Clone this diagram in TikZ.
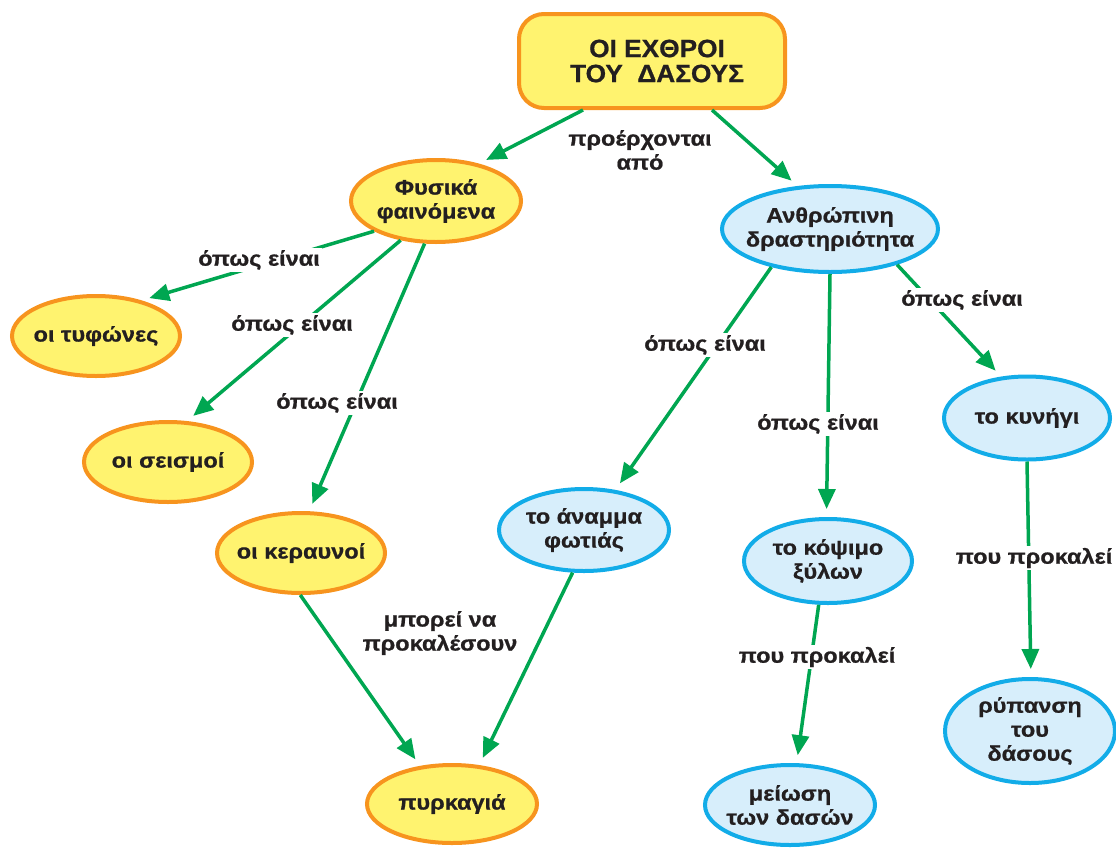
\documentclass[tikz,border=0pt]{standalone}
\usepackage{fontspec}
\usetikzlibrary{shapes.geometric,arrows.meta}
\newfontfamily\grfont{Liberation Sans}[FakeStretch=1.12,FakeBold=0.8]
\newfontfamily\grtitle{Liberation Sans}[FakeStretch=1.05,FakeBold=0.8]
\definecolor{yelF}{HTML}{FFF36F}
\definecolor{oraB}{HTML}{F7941E}
\definecolor{bluF}{HTML}{D7EEFB}
\definecolor{bluB}{HTML}{12ACE8}
\definecolor{grn}{HTML}{00A651}
\definecolor{txtC}{HTML}{231F20}
\tikzset{
  yel/.style={ellipse, draw=oraB, fill=yelF, line width=4pt, inner sep=0pt},
  blu/.style={ellipse, draw=bluB, fill=bluF, line width=4pt, inner sep=0pt},
  txt/.style={font=\grfont\bfseries\fontsize{21}{24}\selectfont, text=txtC, align=center, inner sep=0pt},
  lbl/.style={font=\grfont\bfseries\fontsize{21}{24}\selectfont, text=txtC, align=center, fill=white, inner sep=2pt},
  arr/.style={draw=grn, line width=3.5pt, -{Triangle[length=20pt,width=17pt]}, shorten >=8pt},
}
\begin{document}
\begin{tikzpicture}[x=1pt,y=-1pt]
\useasboundingbox (0,0) rectangle (1116,849);
% title
\node[draw=oraB, fill=yelF, line width=4pt, rounded corners=25pt, minimum width=266pt, minimum height=94pt,
  label={[font=\grtitle\bfseries\fontsize{25}{25}\selectfont, text=txtC, align=center, xshift=5pt]center:{ΟΙ ΕΧΘΡΟΙ\\ΤΟΥ\ \ ΔΑΣΟΥΣ}}] (title) at (652,61) {};
% nodes
\node[yel, minimum width=170pt, minimum height=82pt, label={[txt]center:{Φυσικά\\φαινόμενα}}] (fys) at (436,201) {};
\node[blu, minimum width=216pt, minimum height=86pt, label={[txt]center:{Ανθρώπινη\\δραστηριότητα}}] (anth) at (830,229) {};
\node[yel, minimum width=168pt, minimum height=80pt, label={[txt]center:{οι τυφώνες}}] (tyf) at (96,336) {};
\node[yel, minimum width=168pt, minimum height=80pt, label={[txt]center:{οι σεισμοί}}] (seis) at (168,462) {};
\node[yel, minimum width=168pt, minimum height=80pt, label={[txt]center:{οι κεραυνοί}}] (ker) at (301,553) {};
\node[yel, minimum width=170pt, minimum height=78pt, label={[txt]center:{πυρκαγιά}}] (pyr) at (452,804) {};
\node[blu, minimum width=170pt, minimum height=82pt, label={[txt]center:{το άναμμα\\φωτιάς}}] (anam) at (584,530) {};
\node[blu, minimum width=168pt, minimum height=84pt, label={[txt]center:{το κόψιμο\\ξύλων}}] (kop) at (828,561) {};
\node[blu, minimum width=170pt, minimum height=80pt, label={[txt]center:{μείωση\\των δασών}}] (meio) at (790,805) {};
\node[blu, minimum width=166pt, minimum height=83pt, label={[txt]center:{το κυνήγι}}] (kyn) at (1027,418) {};
\node[blu, minimum width=170pt, minimum height=104pt, label={[txt]center:{ρύπανση\\του\\δάσους}}] (ryp) at (1030,731) {};
% connectors
\draw[arr] ([xshift=-69pt]title.south) -- (fys.41);
\draw[arr] ([xshift=60pt]title.south) -- (anth.127);
\draw[arr] (fys.-154) -- (tyf.38);
\draw[arr] (fys.-132) -- (seis.65);
\draw[arr] (fys.-105) -- (ker.79);
\draw[arr] (ker.-91) -- (pyr.130);
\draw[arr] (anam.-105) -- (pyr.55);
\draw[arr] (anth.-147) -- (anam.52);
\draw[arr] (anth.-90) -- (kop.92);
\draw[arr] (anth.-28) -- (kyn.122);
\draw[arr] (kop.-102) -- (meio.81);
\draw[arr] (kyn.-90) -- (ryp.89);
% labels
\node[lbl] (l0) at (640,150) {προέρχονται\\από};
\node[lbl] (l1) at (259,260) {όπως είναι};
\node[lbl] (l2) at (292,325) {όπως είναι};
\node[lbl] (l3) at (337,403) {όπως είναι};
\node[lbl] (l4) at (705,345) {όπως είναι};
\node[lbl] (l5) at (818,424) {όπως είναι};
\node[lbl] (l6) at (962,300) {όπως είναι};
\node[lbl] (l7) at (440,633) {μπορεί να\\προκαλέσουν};
\node[lbl] (l8) at (817,657) {που προκαλεί};
\node[lbl] (l9) at (1034,558) {που προκαλεί};
\end{tikzpicture}
\end{document}
